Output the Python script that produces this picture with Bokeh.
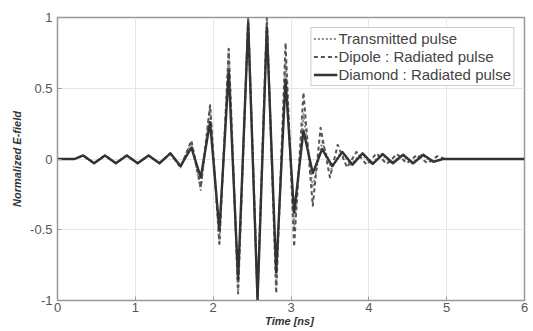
from bokeh.plotting import figure
from bokeh.models import Legend, LegendItem, FixedTicker
from bokeh.embed import file_html
from bokeh.resources import INLINE

# Extrema (and rest points): time in ns, normalized field
t_tx = [0.0, 0.22, 0.33, 0.47, 0.61, 0.75, 0.89, 1.03, 1.17, 1.31, 1.45, 1.58, 1.72, 1.84, 1.96, 2.08, 2.20, 2.32, 2.45, 2.57, 2.69, 2.81, 2.93, 3.04, 3.16, 3.28, 3.40, 3.52, 3.64, 3.77, 3.90, 4.03, 4.16, 4.29, 4.42, 4.55, 4.68, 4.81, 4.95, 6.0]
v_tx = [0.0, 0.0, 0.025, -0.03, 0.025, -0.03, 0.025, -0.03, 0.025, -0.03, 0.04, -0.06, 0.12, -0.22, 0.37, -0.6, 0.77, -0.94, 1.0, -1.0, 0.98, -0.9, 0.7, -0.5, 0.32, -0.2, 0.12, -0.07, 0.05, -0.04, 0.04, -0.035, 0.035, -0.03, 0.03, -0.03, 0.03, -0.02, 0.0, 0.0]

t_dip = [0.0, 0.22, 0.33, 0.47, 0.61, 0.75, 0.89, 1.03, 1.17, 1.31, 1.45, 1.58, 1.72, 1.84, 1.96, 2.08, 2.20, 2.32, 2.45, 2.57, 2.69, 2.81, 2.93, 3.04, 3.16, 3.28, 3.38, 3.50, 3.60, 3.72, 3.84, 3.97, 4.10, 4.23, 4.36, 4.49, 4.62, 4.75, 4.88, 4.98, 6.0]
v_dip = [0.0, 0.0, 0.025, -0.03, 0.025, -0.03, 0.025, -0.03, 0.025, -0.03, 0.04, -0.06, 0.13, -0.2, 0.38, -0.6, 0.78, -0.95, 1.0, -0.97, 1.0, -0.95, 0.82, -0.62, 0.47, -0.33, 0.22, -0.13, 0.1, -0.06, 0.05, -0.04, 0.04, -0.035, 0.035, -0.03, 0.03, -0.03, 0.02, 0.0, 0.0]

t_dia = [0.0, 0.22, 0.33, 0.47, 0.61, 0.75, 0.89, 1.03, 1.17, 1.31, 1.45, 1.58, 1.72, 1.84, 1.96, 2.08, 2.20, 2.32, 2.45, 2.57, 2.69, 2.81, 2.93, 3.04, 3.16, 3.28, 3.40, 3.53, 3.66, 3.79, 3.92, 4.05, 4.18, 4.31, 4.44, 4.57, 4.70, 4.83, 4.95, 6.0]
v_dia = [0.0, 0.0, 0.025, -0.03, 0.025, -0.03, 0.025, -0.03, 0.025, -0.03, 0.04, -0.05, 0.08, -0.13, 0.26, -0.5, 0.62, -0.85, 0.96, -1.0, 0.93, -0.8, 0.56, -0.38, 0.2, -0.1, 0.07, -0.05, 0.05, -0.04, 0.04, -0.035, 0.035, -0.03, 0.03, -0.03, 0.03, -0.02, 0.0, 0.0]

x_ticks = [0, 1, 2, 3, 4, 5, 6]
y_ticks = [-1, -0.5, 0, 0.5, 1]
y_tick_labels = {-1: "-1", -0.5: "-0.5", 0: "0", 0.5: "0.5", 1: "1"}
labels = ["Transmitted pulse", "Dipole : Radiated pulse", "Diamond : Radiated pulse"]

FONT = "Liberation Sans"

p = figure(width=533, height=331, x_range=(0, 6), y_range=(-1, 1),
           output_backend="svg", toolbar_location=None,
           min_border_left=57, min_border_right=9, min_border_top=17, min_border_bottom=31)

p.outline_line_color = "#999999"
p.outline_line_width = 1.5
p.background_fill_color = "white"
p.border_fill_color = "white"

for ax in (p.xaxis[0], p.yaxis[0]):
    ax.axis_line_color = "#999999"
    ax.major_tick_line_color = "#999999"
    ax.major_tick_in = 4
    ax.major_tick_out = 0
    ax.minor_tick_line_color = None
    ax.major_label_text_font = FONT
    ax.major_label_text_font_size = "13px"
    ax.major_label_text_color = "#555555"
    ax.axis_label_text_font = FONT
    ax.axis_label_text_font_style = "bold italic"
    ax.axis_label_text_font_size = "11px"
    ax.axis_label_text_color = "#333333"

p.xaxis.ticker = FixedTicker(ticks=x_ticks)
p.yaxis.ticker = FixedTicker(ticks=y_ticks)
p.yaxis.major_label_overrides = y_tick_labels
p.xaxis.axis_label = "Time  [ns]"
p.yaxis.axis_label = "Normalized E-field"
p.xaxis.major_label_standoff = 2
p.xaxis.axis_label_standoff = 0
p.yaxis.major_label_standoff = 5
p.yaxis.axis_label_standoff = 4

p.xgrid.ticker = FixedTicker(ticks=x_ticks)
p.ygrid.ticker = FixedTicker(ticks=y_ticks)
p.grid.grid_line_color = "#e6e6e6"
p.grid.grid_line_width = 1

r1 = p.line(t_tx, v_tx, line_color="#8c8c8c", line_width=2, line_dash="2 2", line_join="round")
r2 = p.line(t_dip, v_dip, line_color="#555555", line_width=2, line_dash="4 3", line_join="round")
r3 = p.line(t_dia, v_dia, line_color="#333333", line_width=2.4, line_join="round")

legend = Legend(items=[LegendItem(label=labels[0], renderers=[r1]),
                       LegendItem(label=labels[1], renderers=[r2]),
                       LegendItem(label=labels[2], renderers=[r3])],
                location="top_right")
legend.label_text_font = FONT
legend.label_text_font_size = "15px"
legend.label_text_color = "#444444"
legend.label_height = 17
legend.glyph_height = 17
legend.glyph_width = 24
legend.spacing = 1
legend.padding = 2
legend.margin = 10
legend.label_standoff = 1
legend.border_line_color = "#999999"
legend.border_line_width = 1
legend.background_fill_alpha = 1.0
p.add_layout(legend)

open("out.html", "w").write(file_html(p, INLINE))
